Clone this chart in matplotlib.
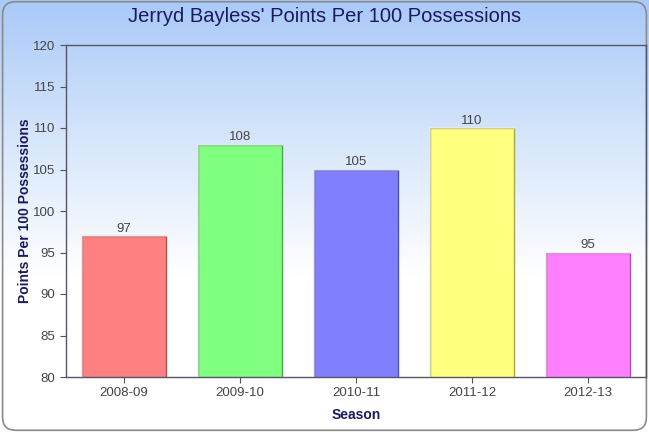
import numpy as np
import matplotlib
matplotlib.use("Agg")
import matplotlib.pyplot as plt
from matplotlib.patches import FancyBboxPatch
from matplotlib.colors import LinearSegmentedColormap

# data
seasons = ["2008-09", "2009-10", "2010-11", "2011-12", "2012-13"]
points = [97, 108, 105, 110, 95]
fills = ["#ff8080", "#80ff80", "#8080ff", "#ffff80", "#ff80ff"]
edges = ["#b35050", "#4aa84a", "#5050b0", "#a8a84a", "#b050b0"]

plt.rcParams['font.family'] = ['Liberation Sans', 'DejaVu Sans']

fig = plt.figure(figsize=(6.49, 4.32), dpi=100)

# background gradient
bg = fig.add_axes([0, 0, 1, 1], zorder=0)
grad = np.linspace(0, 1, 256).reshape(-1, 1)
cmap = LinearSegmentedColormap.from_list(
    "bg", [(0, "#a9c9f8"), (0.32, "#d6e6fb"), (0.64, "#ffffff"), (1, "#ffffff")])
bg.imshow(grad, aspect='auto', cmap=cmap, extent=[0, 1, 0, 1], origin='upper')
bg.set_xlim(0, 1)
bg.set_ylim(0, 1)
bg.axis('off')
frame = FancyBboxPatch((0.004, 0.004), 0.992, 0.992,
                       boxstyle="round,pad=0,rounding_size=0.02",
                       transform=bg.transAxes, fill=False,
                       edgecolor="#8a8a8a", linewidth=1.2, mutation_aspect=1.5)
bg.add_patch(frame)

ax = fig.add_axes([66 / 649, 1 - 377 / 432, 580 / 649, 332 / 432], zorder=1)
ax.patch.set_alpha(0)

x = np.arange(len(seasons))
bars = ax.bar(x, points, width=0.73, bottom=0, color=fills,
              edgecolor=edges, linewidth=1.0, zorder=2)
# lighter highlight on left/top edges
for xi, v, c in zip(x, points, fills):
    ax.plot([xi - 0.365, xi - 0.365, xi + 0.365], [80, v, v],
            color="white", alpha=0.45, linewidth=1.5, zorder=3)
    ax.text(xi, v + 0.15, str(v), ha='center', va='bottom',
            fontsize=9.5, color="#444444", zorder=4)

ax.set_xlim(-0.5, len(seasons) - 0.5)
ax.set_ylim(80, 120)
ax.set_yticks(np.arange(80, 121, 5))
ax.set_xticks(x)
ax.set_xticklabels(seasons)
ax.tick_params(axis='both', colors="#555555", labelcolor="#444444",
               labelsize=9.5, length=4, width=0.8)
for s in ax.spines.values():
    s.set_color("#555566")
    s.set_linewidth(1.0)

ax.set_xlabel("Season", fontsize=10, fontweight='bold', color="#1a1a5e",
              labelpad=6)
ax.set_ylabel("Points Per 100 Possessions", fontsize=10, fontweight='bold',
              color="#1a1a5e")
ax.yaxis.set_label_coords(-34 / 580, 0.5)
fig.text(0.5, 1 - 17 / 432, "Jerryd Bayless' Points Per 100 Possessions",
         ha='center', va='center', fontsize=14.5, color="#1a1a5e")

fig.savefig("out.png", dpi=100)
